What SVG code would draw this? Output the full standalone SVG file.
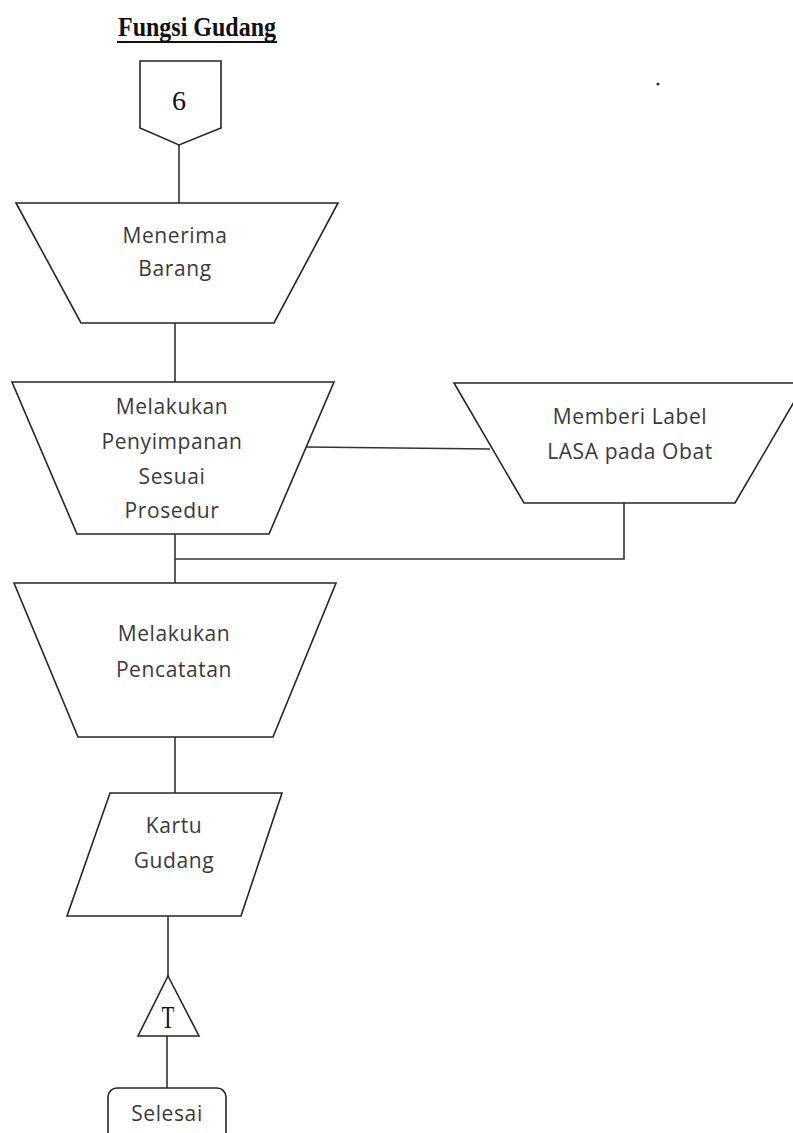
<svg xmlns="http://www.w3.org/2000/svg" width="793" height="1133" viewBox="0 0 793 1133">
  <style>
    .shape { fill: #ffffff; stroke: #262626; stroke-width: 1.6; }
    .conn { fill: none; stroke: #333333; stroke-width: 1.6; }
    .lbl { font-family: "Open Sans", "Noto Sans", sans-serif; font-size: 21px; fill: #3a3a3a; text-anchor: middle; letter-spacing: 0.6px; }
    .serif { font-family: "Liberation Serif", "Times New Roman", serif; fill: #111111; text-anchor: middle; }
  </style>
  <rect width="793" height="1133" fill="#ffffff"/>

  <!-- heading -->
  <g id="title">
    <text class="serif" transform="translate(197,36) scale(1,1.12)" font-size="24" font-weight="bold">Fungsi Gudang</text>
    <line x1="117" y1="42" x2="277" y2="42" stroke="#111111" stroke-width="2"/>
  </g>
  <circle cx="658" cy="84" r="1.6" fill="#333333"/>

  <!-- connectors -->
  <g id="connectors">
    <line class="conn" x1="179" y1="145" x2="179" y2="203"/>
    <line class="conn" x1="175" y1="323" x2="175" y2="382"/>
    <line class="conn" x1="306" y1="447" x2="490" y2="449"/>
    <polyline class="conn" points="624,503 624,559 175,559"/>
    <line class="conn" x1="175" y1="534" x2="175" y2="583"/>
    <line class="conn" x1="175" y1="737" x2="175" y2="793"/>
    <line class="conn" x1="168" y1="916" x2="168" y2="976"/>
    <line class="conn" x1="167" y1="1036" x2="167" y2="1088"/>
  </g>

  <!-- off-page connector -->
  <g id="node-6">
    <polygon class="shape" points="140,61 221,61 221,128 179,145 140,128"/>
    <text class="serif" x="179" y="110" font-size="28">6</text>
  </g>

  <!-- manual operation: receive goods -->
  <g id="node-menerima">
    <polygon class="shape" points="16,203 338,203 274,323 81,323"/>
    <text class="lbl" x="175" y="243">Menerima</text>
    <text class="lbl" x="175" y="276">Barang</text>
  </g>

  <!-- manual operation: storage -->
  <g id="node-penyimpanan">
    <polygon class="shape" points="12,382 334,382 269,534 77,534"/>
    <text class="lbl" x="172" y="414">Melakukan</text>
    <text class="lbl" x="172" y="449">Penyimpanan</text>
    <text class="lbl" x="172" y="484">Sesuai</text>
    <text class="lbl" x="172" y="518">Prosedur</text>
  </g>

  <!-- manual operation: LASA label -->
  <g id="node-label-lasa">
    <polygon class="shape" points="454,383 805,383 735,503 524,503"/>
    <text class="lbl" x="630" y="424">Memberi Label</text>
    <text class="lbl" x="630" y="459">LASA pada Obat</text>
  </g>

  <!-- manual operation: recording -->
  <g id="node-pencatatan">
    <polygon class="shape" points="14,583 336,583 273,737 78,737"/>
    <text class="lbl" x="174" y="641">Melakukan</text>
    <text class="lbl" x="174" y="677">Pencatatan</text>
  </g>

  <!-- data: stock card -->
  <g id="node-kartu-gudang">
    <polygon class="shape" points="110,793 282,793 241,916 67,916"/>
    <text class="lbl" x="174" y="833">Kartu</text>
    <text class="lbl" x="174" y="868">Gudang</text>
  </g>

  <!-- archive -->
  <g id="node-arsip">
    <polygon class="shape" points="168,976 199,1036 138,1036"/>
    <text class="serif" transform="translate(168,1028) scale(1,1.5)" font-size="21" fill="#1a1a40">T</text>
  </g>

  <!-- terminator -->
  <g id="node-selesai">
    <rect class="shape" x="108" y="1088" width="118" height="70" rx="9"/>
    <text class="lbl" x="167" y="1121">Selesai</text>
  </g>
</svg>
